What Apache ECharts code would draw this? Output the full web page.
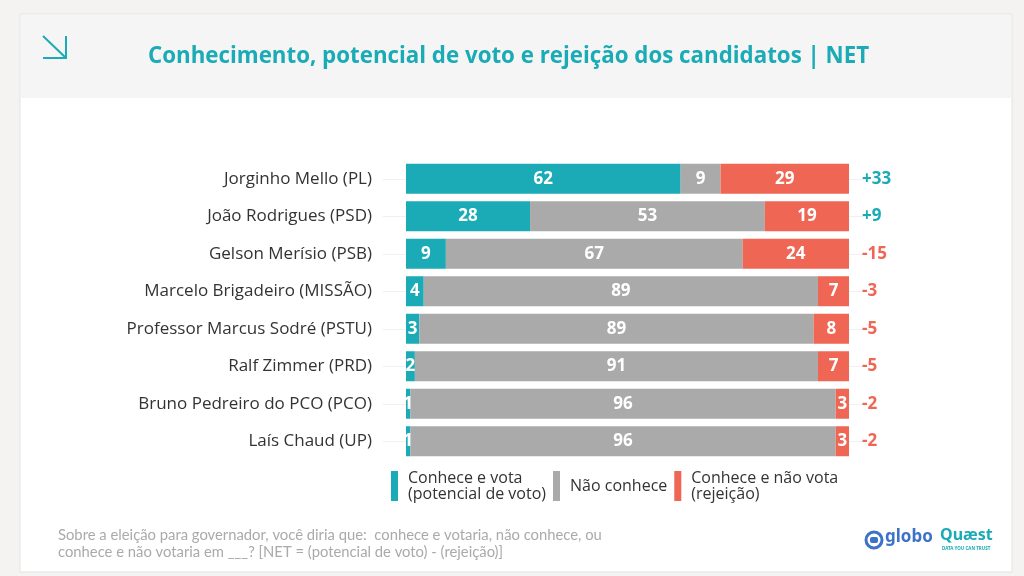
<!DOCTYPE html>
<html>
<head>
<meta charset="utf-8">
<script src="https://cdn.jsdelivr.net/npm/echarts@6/dist/echarts.min.js"></script>
<style>
  html, body { margin: 0; padding: 0; background: #f4f3f2; }
  #main { width: 1024px; height: 576px; }
</style>
</head>
<body>
<div id="main"></div>
<script>
// dados do gráfico
var candidatos = ['Jorginho Mello (PL)', 'João Rodrigues (PSD)', 'Gelson Merísio (PSB)',
  'Marcelo Brigadeiro (MISSÃO)', 'Professor Marcus Sodré (PSTU)', 'Ralf Zimmer (PRD)',
  'Bruno Pedreiro do PCO (PCO)', 'Laís Chaud (UP)'];
var conheceVota = [62, 28, 9, 4, 3, 2, 1, 1];
var naoConhece = [9, 53, 67, 89, 89, 91, 96, 96];
var rejeicao = [29, 19, 24, 7, 8, 7, 3, 3];
var net = [33, 9, -15, -3, -5, -5, -2, -2];

var nomes = ['Conhece e vota (potencial de voto)', 'Não conhece', 'Conhece e não vota (rejeição)'];
var cores = ['#1aabb6', '#aaaaaa', '#ef6655'];

var myChart = echarts.init(document.getElementById('main'));

// grade principal
var gTop = 160, gHeight = 300, band = gHeight / candidatos.length;

var barLabel = {
  show: true,
  position: 'inside',
  color: '#fff',
  fontFamily: 'Open Sans',
  fontWeight: 'bold',
  fontSize: 17
};

function serie(i, valores) {
  return {
    name: nomes[i],
    type: 'bar',
    stack: 'total',
    barWidth: 30,
    xAxisIndex: 0,
    yAxisIndex: 0,
    itemStyle: { color: cores[i] },
    label: barLabel,
    data: valores
  };
}

var option = {
  backgroundColor: '#f4f3f2',
  animation: false,
  title: {
    text: 'Conhecimento, potencial de voto e rejeição dos candidatos | NET',
    left: 143,
    top: 41,
    textStyle: {
      color: '#1aabb6',
      fontFamily: 'Open Sans',
      fontWeight: 'bold',
      fontSize: 22.3
    }
  },
  legend: {
    data: nomes,
    left: 386,
    top: 465,
    itemWidth: 7,
    itemHeight: 30,
    itemGap: 7,
    icon: 'rect',
    formatter: function (n) { return n.replace(' (', '\n('); },
    textStyle: {
      color: '#333',
      fontFamily: 'Open Sans',
      fontSize: 16,
      lineHeight: 16,
      padding: [0, 0, 0, 5]
    }
  },
  grid: [
    { left: 406, right: 175, top: gTop, height: gHeight },
    // linhas de fundo no centro de cada barra
    { left: 383, right: 154, top: gTop + band / 2, height: gHeight - band }
  ],
  xAxis: [
    { type: 'value', min: 0, max: 100, gridIndex: 0, show: false },
    { type: 'value', min: 0, max: 100, gridIndex: 1, show: false }
  ],
  yAxis: [
    {
      type: 'category',
      gridIndex: 0,
      inverse: true,
      data: candidatos,
      axisLine: { show: false },
      axisTick: { show: false },
      axisLabel: {
        margin: 34,
        color: '#333',
        fontFamily: 'Open Sans',
        fontSize: 17
      }
    },
    {
      type: 'category',
      gridIndex: 1,
      inverse: true,
      boundaryGap: false,
      data: candidatos,
      axisLine: { show: false },
      axisTick: { show: false },
      axisLabel: { show: false },
      splitLine: { show: true, lineStyle: { color: '#f0f0f0', width: 1 } }
    }
  ],
  graphic: [
    { type: 'rect', z: -10, shape: { x: 20, y: 14, width: 992, height: 558 },
      style: { fill: '#fff', stroke: '#e3e3e3', lineWidth: 1 } },
    { type: 'rect', z: -9, shape: { x: 21, y: 15, width: 990, height: 83 },
      style: { fill: '#f5f5f5' } },
    { type: 'polyline', shape: { points: [[43, 36], [66, 58]] },
      style: { stroke: '#1aabb6', lineWidth: 2, fill: null } },
    { type: 'polyline', shape: { points: [[43, 58], [66, 58], [66, 36]] },
      style: { stroke: '#1aabb6', lineWidth: 2, fill: null } },
    { type: 'text', left: 58, top: 527,
      style: {
        text: 'Sobre a eleição para governador, você diria que:  conhece e votaria, não conhece, ou\nconhece e não votaria em ___? [NET = (potencial de voto) - (rejeição)]',
        fill: '#aaaaaa', font: '14.8px Lato', lineHeight: 17
      } },
    // logos
    { type: 'circle', shape: { cx: 874, cy: 540, r: 8 },
      style: { fill: 'none', stroke: '#3d72c8', lineWidth: 3 } },
    { type: 'rect', shape: { x: 870, y: 537, width: 8, height: 6, r: 2 },
      style: { fill: '#3d72c8' } },
    { type: 'text', left: 885, top: 529,
      style: { text: 'globo', fill: '#3d72c8', font: 'bold 17px Noto Sans' } },
    { type: 'text', left: 940, top: 527,
      style: { text: 'Quæst', fill: '#1aabb6', font: 'bold 16px Noto Sans' } },
    { type: 'text', left: 942, top: 546,
      style: { text: 'DATA YOU CAN TRUST', fill: '#1aabb6', font: 'bold 4.5px Noto Sans' } }
  ],
  series: [
    serie(0, conheceVota),
    serie(1, naoConhece),
    serie(2, rejeicao),
    {
      name: 'NET',
      type: 'bar',
      stack: 'total',
      barWidth: 30,
      silent: true,
      data: net.map(function (v) {
        return { value: 0, label: { color: v > 0 ? '#1aabb6' : '#ef6655' } };
      }),
      label: {
        show: true,
        position: 'right',
        distance: 13,
        fontFamily: 'Open Sans',
        fontWeight: 'bold',
        fontSize: 17,
        formatter: function (p) {
          var v = net[p.dataIndex];
          return v > 0 ? '+' + v : '' + v;
        }
      }
    }
  ]
};

myChart.setOption(option);
</script>
</body>
</html>
